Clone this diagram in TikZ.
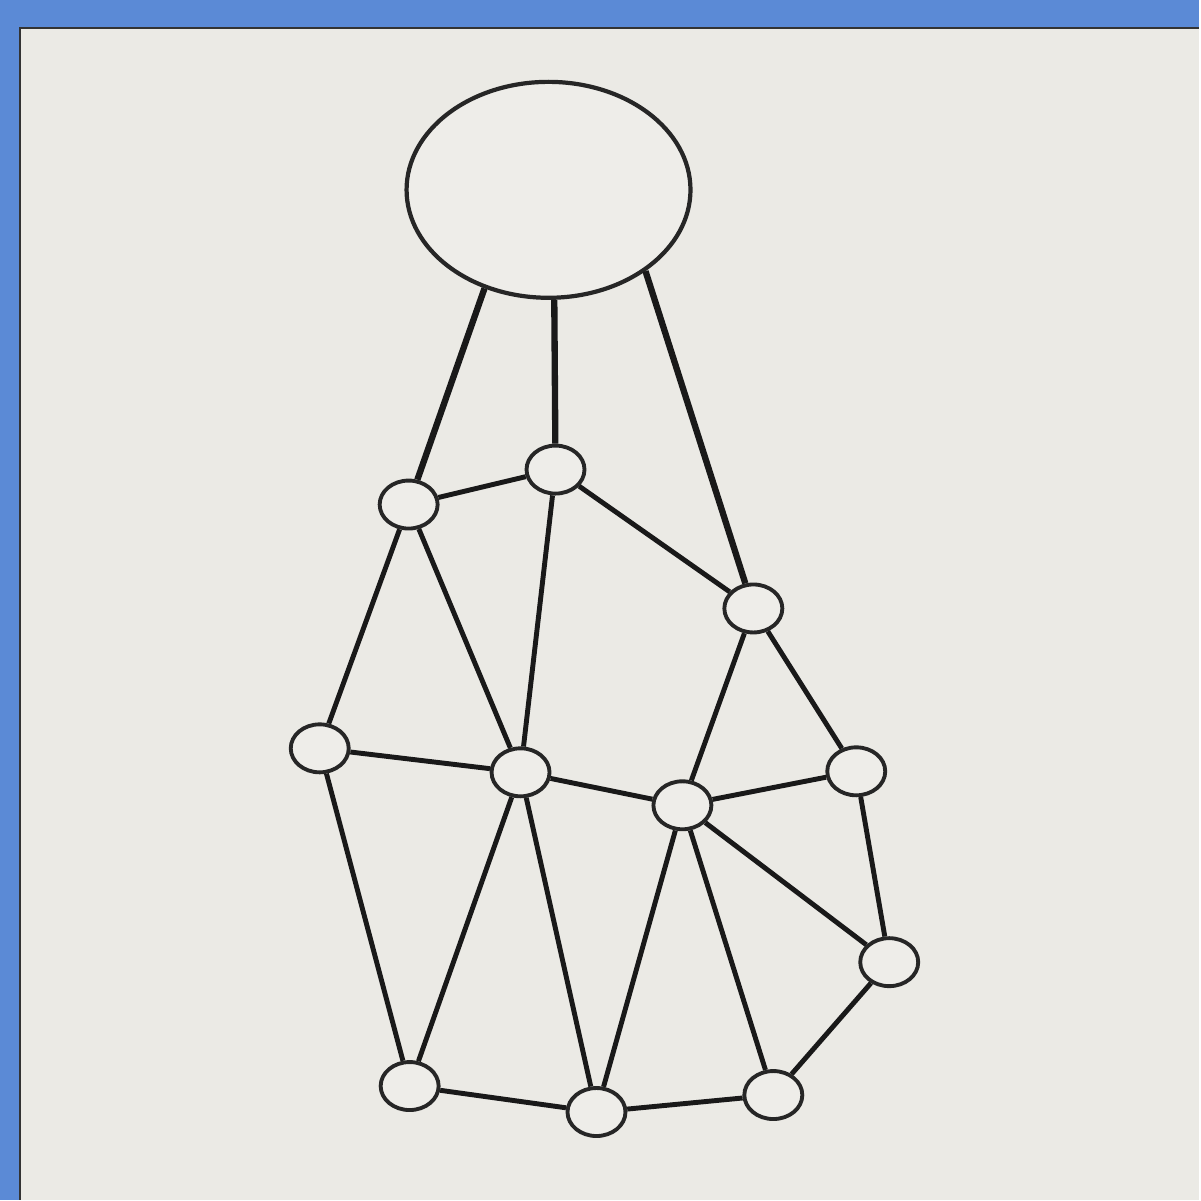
\documentclass[tikz,border=0pt]{standalone}
\usetikzlibrary{shapes.geometric}
\definecolor{marco}{HTML}{5B8AD6}
\definecolor{papel}{HTML}{EBEAE5}
\definecolor{relleno}{HTML}{EEEDE9}
\begin{document}
\begin{tikzpicture}[x=0.01cm,y=-0.01cm,
    nodo/.style={ellipse, draw=black!85, line width=1.1pt, fill=relleno,
        minimum width=0.58cm, minimum height=0.48cm, inner sep=0pt},
    cabeza/.style={ellipse, draw=black!85, line width=1.2pt, fill=relleno,
        minimum width=2.84cm, minimum height=2.16cm, inner sep=0pt},
    arista/.style={line width=1.4pt, black!90},
    colgante/.style={line width=1.8pt, black!90}]
    % Fondo y marco
    \fill[marco] (0,0) rectangle (1200,1201);
    \fill[papel] (20,28) rectangle (1200,1201);
    \draw[black!80, line width=0.6pt] (20,1201) -- (20,28) -- (1200,28);
    \useasboundingbox (0,0) rectangle (1200,1201);

    % Nodos
    \node[cabeza] (top) at (549,190) {};
    \node[nodo] (a) at (409,505) {};
    \node[nodo] (b) at (556,470) {};
    \node[nodo] (c) at (754,609) {};
    \node[nodo] (d) at (320,749) {};
    \node[nodo] (e) at (521,773) {};
    \node[nodo] (f) at (683,806) {};
    \node[nodo] (g) at (857,772) {};
    \node[nodo] (h) at (890,963) {};
    \node[nodo] (i) at (410,1087) {};
    \node[nodo] (j) at (597,1113) {};
    \node[nodo] (k) at (774,1096) {};

    % Aristas colgantes
    \draw[colgante] (top.237) -- (a);
    \draw[colgante] (top.-87) -- (b);
    \draw[colgante] (top.-40) -- (c);

    % Aristas de la malla
    \foreach \u/\v in {a/b,b/c,a/d,a/e,b/e,c/f,c/g,d/e,e/f,f/g,d/i,e/i,e/j,f/j,f/k,f/h,g/h,i/j,j/k,k/h}
        \draw[arista] (\u) -- (\v);
\end{tikzpicture}
\end{document}
